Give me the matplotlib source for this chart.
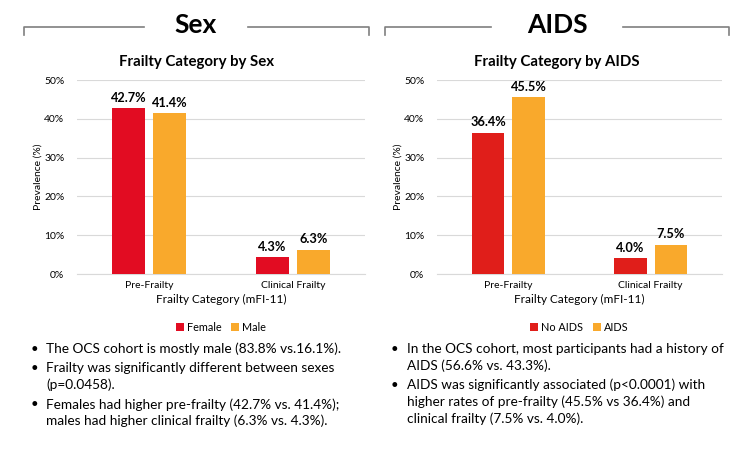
import matplotlib.pyplot as plt
import numpy as np
from matplotlib.lines import Line2D

categories = ["Pre-Frailty", "Clinical Frailty"]
sex_groups = ["Female", "Male"]
sex_female = [42.7, 4.3]
sex_male = [41.4, 6.3]
aids_groups = ["No AIDS", "AIDS"]
aids_no = [36.4, 4.0]
aids_yes = [45.5, 7.5]
yticks = [0, 10, 20, 30, 40, 50]

left_bullets = [
    "The OCS cohort is mostly male (83.8% vs.16.1%).",
    "Frailty was significantly different between sexes\n(p=0.0458).",
    "Females had higher pre-frailty (42.7% vs. 41.4%);\nmales had higher clinical frailty (6.3% vs. 4.3%).",
]
right_bullets = [
    "In the OCS cohort, most participants had a history of\nAIDS (56.6% vs. 43.3%).",
    "AIDS was significantly associated (p<0.0001) with\nhigher rates of pre-frailty (45.5% vs 36.4%) and\nclinical frailty (7.5% vs. 4.0%).",
]

plt.rcParams['font.family'] = ['Lato', 'DejaVu Sans']

W, H = 749, 454
fig = plt.figure(figsize=(W/100, H/100), dpi=100)

def fx(px): return px / W
def fy(py): return 1 - py / H

def header(x0, x1, title, cx):
    y = fy(27)
    ytick = fy(35)
    tw = 52 if title == "Sex" else 66
    fig.add_artist(Line2D([fx(x0), fx(x0), fx(cx - tw)], [ytick, y, y], color='#7f7f7f', lw=1.2))
    fig.add_artist(Line2D([fx(cx + tw), fx(x1), fx(x1)], [y, y, ytick], color='#7f7f7f', lw=1.2))
    fig.text(fx(cx), fy(25), title, ha='center', va='center', fontsize=19, fontweight='bold')

def chart(x0, x1, subtitle, cx, a, b, names, ca, cb):
    ax = fig.add_axes([fx(x0), fy(274), fx(x1 - x0), fy(80) - fy(274)])
    x = np.arange(len(categories))
    w = 0.225
    off = 0.142
    ba = ax.bar(x - off, a, w, color=ca, label=names[0], zorder=3)
    bb = ax.bar(x + off, b, w, color=cb, label=names[1], zorder=3)
    for bars, vals in ((ba, a), (bb, b)):
        for r, v in zip(bars, vals):
            ax.text(r.get_x() + r.get_width()/2, v + 1.2, f"{v:.1f}%", ha='center', va='bottom',
                    fontsize=9.2, fontweight='bold')
    ax.set_xlim(-0.5, 1.5)
    ax.set_ylim(0, 50)
    ax.set_yticks(yticks)
    ax.set_yticklabels([f"{t}%" for t in yticks], fontsize=7.5)
    ax.set_xticks(x)
    ax.set_xticklabels(categories, fontsize=7.5)
    ax.yaxis.grid(True, color='#d9d9d9', lw=0.8, zorder=0)
    for s in ax.spines.values():
        s.set_visible(False)
    ax.spines['bottom'].set_visible(True)
    ax.spines['bottom'].set_color('#d9d9d9')
    ax.tick_params(length=0)
    ax.tick_params(axis='x', pad=5)
    ax.tick_params(axis='y', pad=9)
    ax.set_xlabel("Frailty Category (mFI-11)", fontsize=8.5, labelpad=3)
    ax.set_ylabel("Prevalence (%)", fontsize=7.5, labelpad=1)
    fig.text(fx(cx), fy(62), subtitle, ha='center', va='center', fontsize=10.8, fontweight='bold')
    ax.legend(loc='upper center', bbox_to_anchor=(0.5, -0.195), ncol=2, frameon=False, fontsize=7.8,
              handlelength=0.7, handleheight=0.7, handletextpad=0.3, columnspacing=0.9)
    return ax

header(24, 369, "Sex", 196)
header(385, 729, "AIDS", 557)
chart(77, 365, "Frailty Category by Sex", 197, sex_female, sex_male, sex_groups, '#E20C22', '#F9A92C')
chart(437, 722, "Frailty Category by AIDS", 557, aids_no, aids_yes, aids_groups, '#E01E1A', '#F9A92C')

def bullets(xb, xt, ystart, items):
    y = ystart
    lh = 16.8
    for it in items:
        lines = it.split("\n")
        fig.text(fx(xb), fy(y), "•", ha='left', va='center', fontsize=9.5)
        for ln in lines:
            fig.text(fx(xt), fy(y), ln, ha='left', va='center', fontsize=9.8)
            y += lh
        y += 2.5

bullets(31, 46, 349, left_bullets)
bullets(391, 407, 349, right_bullets)

fig.savefig("out.png", dpi=100)
